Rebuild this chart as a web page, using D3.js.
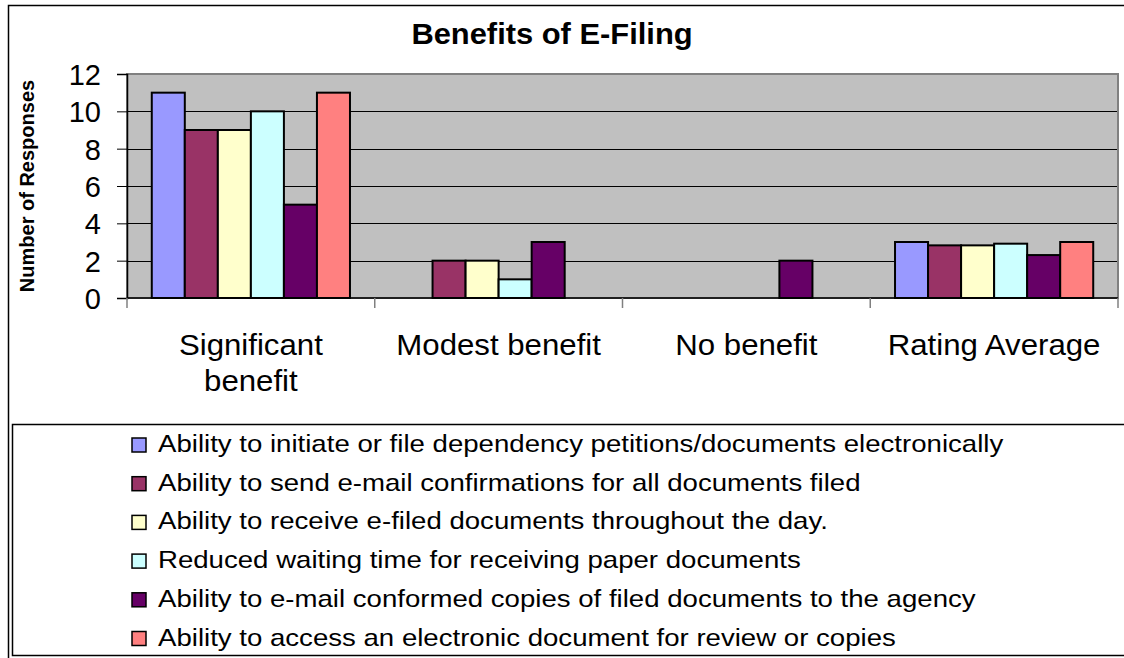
<!DOCTYPE html>
<html>
<head>
<meta charset="utf-8">
<script src="https://cdn.jsdelivr.net/npm/d3@7"></script>
<style>
  body { margin: 0; background: #fff; }
  svg text { font-family: "Liberation Sans", Arial, sans-serif; fill: #000; }
</style>
</head>
<body>
<div id="chart"></div>
<script>
let categories = ["Significant benefit", "Modest benefit", "No benefit", "Rating Average"]
let seriesNames = [
    "Ability to initiate or file dependency petitions/documents electronically",
    "Ability to send e-mail confirmations for all documents filed",
    "Ability to receive e-filed documents throughout the day.",
    "Reduced waiting time for receiving paper documents",
    "Ability to e-mail conformed copies of filed documents to the agency",
    "Ability to access an electronic document for review or copies"
]
// one array per series, values in category order
let initiateFile = [11, 0, 0, 3.00]
let emailConfirm = [9, 2, 0, 2.82]
let receiveAllDay = [9, 2, 0, 2.82]
let reducedWait = [10, 1, 0, 2.91]
let emailCopies = [5, 3, 2, 2.30]
let accessDoc = [11, 0, 0, 3.00]
let yTicks = [0, 2, 4, 6, 8, 10, 12]
let colors = ["#9999FF", "#993366", "#FFFFCC", "#CCFFFF", "#660066", "#FF8080"]

let seriesValues = [initiateFile, emailConfirm, receiveAllDay, reducedWait, emailCopies, accessDoc]

let width = 1124
let height = 658
let plot = {left: 127, right: 1118, top: 74, bottom: 298}

// the source chart was stretched sideways, so text gets a horizontal scale
function stretch(sel, k, x0) {
    sel.attr("transform", `translate(${x0},0) scale(${k},1) translate(${-x0},0)`)
}

let svg = d3.select("#chart")
    .append("svg")
    .attr("width", width)
    .attr("height", height)

// outer chart border (runs off the right and bottom edges)
svg.append("rect")
    .attr("x", 8.5).attr("y", 5.5)
    .attr("width", 1130).attr("height", 670)
    .attr("fill", "#fff")
    .attr("stroke", "#000")
    .attr("stroke-width", 1.5)

let title = svg.append("text")
    .attr("x", 552)
    .attr("y", 44)
    .style("text-anchor", "middle")
    .style("font-weight", "bold")
    .style("font-size", "29px")
    .text("Benefits of E-Filing")
stretch(title, 1.065, 552)

let x0 = d3.scaleBand()
    .domain(categories)
    .range([plot.left, plot.right])

let x1 = d3.scaleBand()
    .domain(d3.range(seriesNames.length))
    .range([x0.bandwidth() * 0.1, x0.bandwidth() * 0.9])

let y = d3.scaleLinear()
    .domain([0, 12])
    .range([plot.bottom, plot.top])

// plot background
svg.append("rect")
    .attr("x", plot.left).attr("y", plot.top)
    .attr("width", plot.right - plot.left)
    .attr("height", plot.bottom - plot.top)
    .attr("fill", "#C0C0C0")

// gridlines
svg.append("g")
    .selectAll("line")
    .data(yTicks.filter(d => d > 0 && d < 12))
    .enter()
    .append("line")
    .attr("x1", plot.left).attr("x2", plot.right)
    .attr("y1", d => Math.round(y(d)) + 0.5)
    .attr("y2", d => Math.round(y(d)) + 0.5)
    .attr("stroke", "#000")
    .attr("stroke-width", 1)

// plot border
svg.append("rect")
    .attr("x", plot.left).attr("y", plot.top)
    .attr("width", plot.right - plot.left)
    .attr("height", plot.bottom - plot.top)
    .attr("fill", "none")
    .attr("stroke", "#808080")
    .attr("stroke-width", 2)

// bars
let rows = []
categories.forEach((c, ci) => {
    seriesValues.forEach((vals, si) => {
        rows.push({cat: c, s: si, value: vals[ci]})
    })
})

svg.append("g")
    .selectAll("rect")
    .data(rows.filter(d => d.value > 0))
    .enter()
    .append("rect")
    .attr("x", d => x0(d.cat) + x1(d.s))
    .attr("y", d => y(d.value))
    .attr("width", x1.bandwidth())
    .attr("height", d => y(0) - y(d.value))
    .attr("fill", d => colors[d.s])
    .attr("stroke", "#000")
    .attr("stroke-width", 2)

// y axis
let yAxis = svg.append("g")
    .attr("transform", `translate(${plot.left},0)`)
    .call(d3.axisLeft(y).tickValues(yTicks).tickSize(10).tickPadding(16))
yAxis.select(".domain").attr("stroke", "#000").attr("stroke-width", 1.5)
yAxis.selectAll(".tick line").attr("stroke", "#000")
yAxis.selectAll("text")
    .style("font-size", "29px")
    .attr("dy", "0.36em")

// x axis, ticks at category boundaries
let xAxisG = svg.append("g")
    .attr("transform", `translate(0,${plot.bottom})`)
xAxisG.append("line")
    .attr("x1", plot.left).attr("x2", plot.right)
    .attr("stroke", "#000").attr("stroke-width", 1.5)
xAxisG.selectAll(".bnd")
    .data(categories.concat([null]))
    .enter()
    .append("line")
    .attr("x1", (d, i) => plot.left + i * x0.step())
    .attr("x2", (d, i) => plot.left + i * x0.step())
    .attr("y1", 0).attr("y2", 10)
    .attr("stroke", "#808080").attr("stroke-width", 1.5)

let xLabels = svg.append("g")
    .selectAll("text")
    .data(categories)
    .enter()
    .append("text")
    .attr("x", d => x0(d) + x0.bandwidth() / 2)
    .attr("y", 355)
    .style("text-anchor", "middle")
    .style("font-size", "30px")
    .text(d => d)

// wrap labels that do not fit in their band
xLabels.each(function(d) {
    let t = d3.select(this)
    let cx = x0(d) + x0.bandwidth() / 2
    if (this.getComputedTextLength() > x0.bandwidth() * 0.9) {
        let words = d.split(" ")
        t.text(null)
        t.append("tspan").attr("x", cx).text(words.slice(0, -1).join(" "))
        t.append("tspan").attr("x", cx).attr("dy", 36).text(words[words.length - 1])
    }
    stretch(t, 1.04, cx)
})

svg.append("text")
    .attr("transform", "translate(34,186) rotate(-90)")
    .style("text-anchor", "middle")
    .style("font-weight", "bold")
    .style("font-size", "20px")
    .text("Number of Responses")

// legend
svg.append("rect")
    .attr("x", 12.5).attr("y", 424.5)
    .attr("width", 1130).attr("height", 231)
    .attr("fill", "#fff")
    .attr("stroke", "#000")
    .attr("stroke-width", 1.5)

let legend = svg.append("g")
    .selectAll("g")
    .data(seriesNames)
    .enter()
    .append("g")
    .attr("transform", (d, i) => `translate(132,${438 + i * 38.7})`)

legend.append("rect")
    .attr("width", 14).attr("height", 14)
    .attr("fill", (d, i) => colors[i])
    .attr("stroke", "#000")
    .attr("stroke-width", 1.5)

legend.append("text")
    .attr("x", 26)
    .attr("y", 14)
    .style("font-size", "24px")
    .text(d => d)
    .call(stretch, 1.15, 26)
</script>
</body>
</html>
